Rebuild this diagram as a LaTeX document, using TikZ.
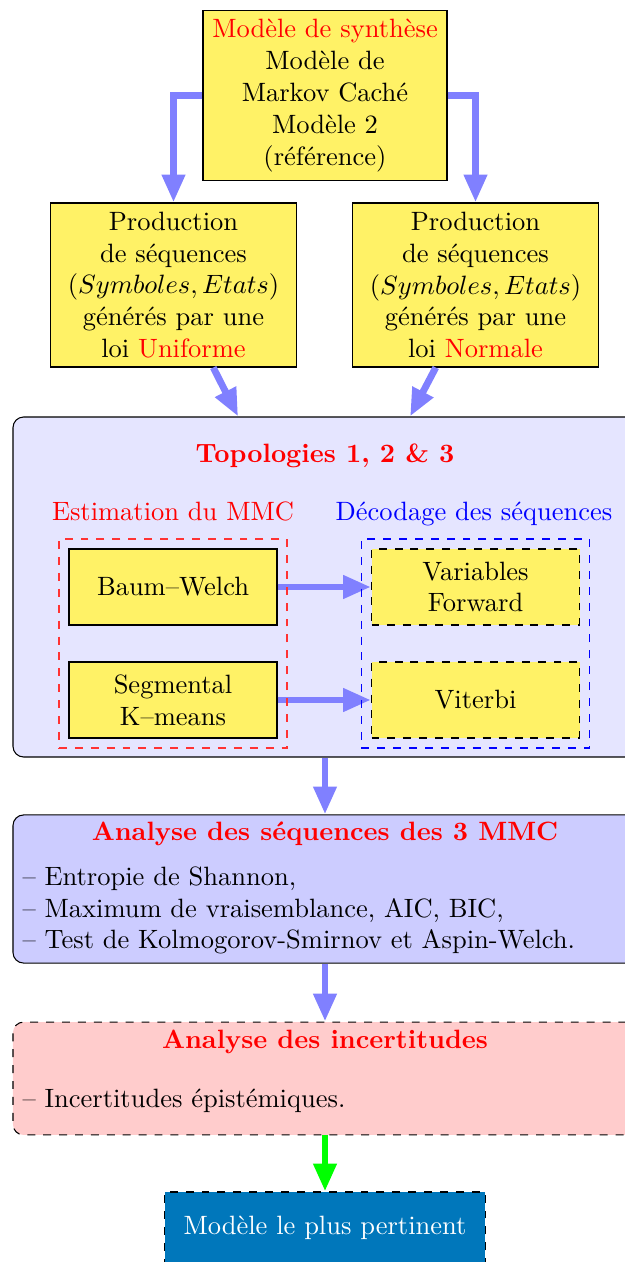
\documentclass[tikz,border=0pt]{standalone}
\usepackage{fontspec}
\usepackage{amsmath,amssymb}
\usepackage{tikz}
\usetikzlibrary{arrows.meta,fit}
\definecolor{boxyellow}{RGB}{255,242,102}
\definecolor{bestblue}{RGB}{0,119,187}

\begin{document}
\begin{tikzpicture}[x=0.3774pt,y=-0.3774pt]
\tikzstyle{every node}+=[inner sep=0pt]
\tikzstyle{yellowbox}=[draw=black,fill=boxyellow,align=center]
\tikzstyle{panel}=[draw=black,rounded corners=4pt,minimum width=235.5pt]
\tikzstyle{groupbox}=[draw,dashed,line width=0.6pt,inner sep=3.6pt]
\tikzstyle{flow}=[draw=blue!50,line width=2.6pt,-{Triangle[length=10.5pt,width=8.3pt]}]
\useasboundingbox (0,0) rectangle (624,1262);
\node [yellowbox,minimum width=92.1pt,minimum height=64.5pt] (model) at (325,95.5) {\textcolor{red}{Modèle de synthèse}\\ Modèle de\\ Markov Caché\\ Modèle 2\\ (référence)};
\node [yellowbox,minimum width=92.5pt,minimum height=61.9pt] (prodL) at (173.5,285) {Production\\ de séquences\\ $(Symboles, Etats)$\\ générés par une\\ loi \textcolor{red}{Uniforme}};
\node [yellowbox,minimum width=92.5pt,minimum height=61.9pt] (prodR) at (475.5,285) {Production\\ de séquences\\ $(Symboles, Etats)$\\ générés par une\\ loi \textcolor{red}{Normale}};
\node [panel,fill=blue!10,minimum height=128.3pt] (topo) at (325,587) {};
\node [anchor=base,text=red,font=\bfseries] (topoTitle) at (325,462) {Topologies 1, 2 \& 3};
\node [anchor=base,text=red] (estimLabel) at (173,520) {Estimation du MMC};
\node [anchor=base,text=blue] (decodLabel) at (474,520) {Décodage des séquences};
\node [yellowbox,minimum width=78.5pt,minimum height=28.7pt] (bw) at (173,587) {Baum--Welch};
\node [yellowbox,minimum width=78.5pt,minimum height=28.7pt] (km) at (173,700) {Segmental\\ K--means};
\node [yellowbox,dashed,minimum width=78.5pt,minimum height=28.7pt] (vf) at (475.5,587) {Variables\\ Forward};
\node [yellowbox,dashed,minimum width=78.5pt,minimum height=28.7pt] (vit) at (475.5,700) {Viterbi};
\node [panel,fill=blue!20,minimum height=55.9pt] (ana) at (325,889) {};
\node [anchor=base,text=red,font=\bfseries] (anaTitle) at (325,840) {Analyse des séquences des 3 MMC};
\node [anchor=base west] (anaA) at (22,885) {-- Entropie de Shannon,};
\node [anchor=base west] (anaB) at (22,917) {-- Maximum de vraisemblance, AIC, BIC,};
\node [anchor=base west] (anaC) at (22,948) {-- Test de Kolmogorov-Smirnov et Aspin-Welch.};
\node [panel,dashed,fill=red!20,minimum height=42.6pt] (inc) at (325,1078.5) {};
\node [anchor=base,text=red,font=\bfseries] (incTitle) at (325,1048) {Analyse des incertitudes};
\node [anchor=base west] (incA) at (22,1107) {-- Incertitudes épistémiques.};
\node [draw=black,dashed,fill=bestblue,text=white,minimum width=120.8pt,minimum height=27.2pt] (best) at (325,1228) {Modèle le plus pertinent};
\draw [flow] (model.west) -| (prodL.north);
\draw [flow] (model.east) -| (prodR.north);
\draw [flow] ([xshift=15pt]prodL.south) -- ([xshift=-32.8pt]topo.north);
\draw [flow] ([xshift=-15pt]prodR.south) -- ([xshift=32.1pt]topo.north);
\draw [flow] (bw.east) -- (vf.west);
\draw [flow] (km.east) -- (vit.west);
\draw [flow] (topo.south) -- (ana.north);
\draw [flow] (ana.south) -- (inc.north);
\draw [flow,draw=green] (inc.south) -- (best.north);
\node [groupbox,draw=red!80,fit=(bw)(km)] (estimBox) {};
\node [groupbox,draw=blue,fit=(vf)(vit)] (decodBox) {};
\end{tikzpicture}
\end{document}
